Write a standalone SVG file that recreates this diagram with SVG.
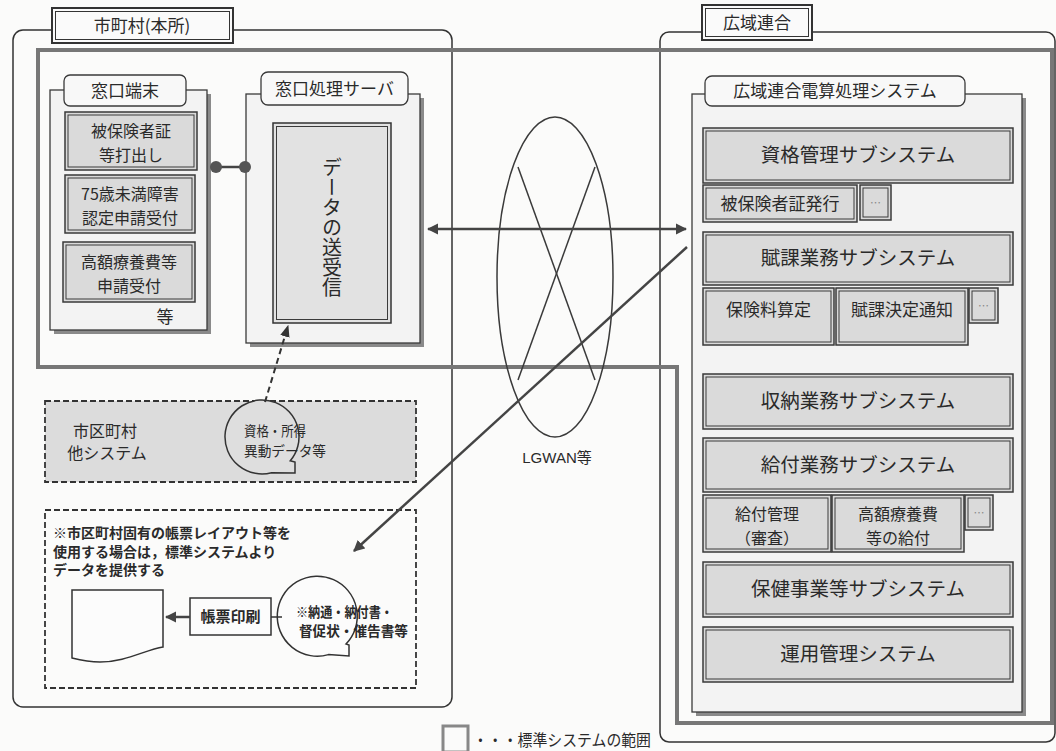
<svg xmlns="http://www.w3.org/2000/svg" width="1056" height="751" viewBox="0 0 1056 751">
<style>
text{font-family:"Noto Sans CJK JP","Noto Sans",sans-serif;fill:#2a2a2a}
.t17{font-size:17px}
.t16{font-size:16px}
.t19{font-size:19.5px}
.t14{font-size:14px}
.c{text-anchor:middle}
.panel{fill:#f3f3f3;stroke:#3a3a3a;stroke-width:1.3}
.shadow{fill:#8a8a8a}
.lab{fill:#f8f8f8;stroke:#3a3a3a;stroke-width:1.3}
.sub{fill:#dadada;stroke:#3a3a3a;stroke-width:1.5}
.subin{fill:none;stroke:#3a3a3a;stroke-width:1}
.frame{fill:#fafafa;stroke:#333;stroke-width:2}
.dash{stroke:#333;stroke-width:1.8;stroke-dasharray:6 3}
.ln{stroke:#3a3a3a;stroke-width:1.5;fill:none}
.arr{stroke:#444;stroke-width:2.5;fill:none}
</style>
<defs>
<marker id="ah" viewBox="0 0 10 10" refX="9" refY="5" markerWidth="4.5" markerHeight="4.5" orient="auto-start-reverse"><path d="M0,0 L10,5 L0,10 Z" fill="#444"/></marker>
<marker id="ah2" viewBox="0 0 10 10" refX="9" refY="5" markerWidth="6" markerHeight="6" orient="auto"><path d="M0,1 L10,5 L0,9 Z" fill="#333"/></marker>
</defs>
<rect width="1056" height="751" fill="#fbfbfa"/>

<g id="city">
<rect x="13" y="30" width="439" height="677" rx="10" fill="none" stroke="#333" stroke-width="1.5"/>
<rect x="52" y="8" width="181" height="35" class="frame"/>
<rect x="55.5" y="11.5" width="174" height="28" fill="none" stroke="#333" stroke-width="1"/>
<text x="142" y="32" class="t17 c">市町村(本所)</text>
</g>

<g id="union">
<rect x="660" y="32" width="395" height="710" rx="9" fill="none" stroke="#333" stroke-width="1.5"/>
<rect x="702" y="5" width="110" height="35" class="frame"/>
<rect x="705.5" y="8.5" width="103" height="28" fill="none" stroke="#333" stroke-width="1"/>
<text x="757" y="29" class="t17 c">広域連合</text>
</g>

<g id="standard-range">
<path d="M38,50 H1052 V723 H677 V367 H38 Z" fill="none" stroke="#777" stroke-width="4"/>
</g>

<g id="terminal">
<rect x="54" y="94" width="157" height="240" class="shadow"/>
<rect x="50" y="90" width="157" height="240" class="panel"/>
<rect x="64" y="75" width="122" height="31" rx="6" class="lab"/>
<text x="125" y="97" class="t17 c">窓口端末</text>
<rect x="65" y="112" width="132" height="58" class="sub"/>
<rect x="68" y="115" width="126" height="52" class="subin"/>
<text x="131" y="137" class="t16 c">被保険者証</text>
<text x="131" y="160.5" class="t16 c">等打出し</text>
<rect x="65" y="175" width="130" height="58" class="sub"/>
<rect x="68" y="178" width="124" height="52" class="subin"/>
<text x="130" y="200" class="t16 c">75歳未満障害</text>
<text x="130" y="223.5" class="t16 c">認定申請受付</text>
<rect x="63" y="242" width="132" height="60" class="sub"/>
<rect x="66" y="245" width="126" height="54" class="subin"/>
<text x="129" y="268" class="t16 c">高額療養費等</text>
<text x="129" y="291.5" class="t16 c">申請受付</text>
<text x="165" y="323" class="t17 c">等</text>
</g>

<g id="server">
<rect x="250" y="98" width="174" height="249" class="shadow"/>
<rect x="246" y="94" width="174" height="249" class="panel"/>
<rect x="261" y="72" width="147" height="33" rx="7" class="lab"/>
<text x="334.5" y="95" class="t17 c">窓口処理サーバ</text>
<rect x="273" y="123" width="118" height="200" fill="#e2e2e2" stroke="#333" stroke-width="1.5"/>
<rect x="276.5" y="126.5" width="111" height="193" class="subin"/>
<text x="332" y="227" font-size="20" class="c" style="writing-mode:vertical-rl">データの送受信</text>
</g>

<g id="other-systems">
<rect x="45" y="401" width="371" height="81" fill="#dcdcdc" class="dash"/>
<text x="105" y="437" font-size="16" class="c">市区町村</text>
<text x="107" y="459" font-size="16" class="c">他システム</text>
<path d="M290.3,460.8 A37,37 0 1 0 271.6,472.7 L295,473 L295,462 Z" fill="#dedede" stroke="#333" stroke-width="1.5"/>
<text x="244" y="436" class="t14" textLength="62" lengthAdjust="spacingAndGlyphs">資格・所得</text>
<text x="244" y="456" class="t14" textLength="82" lengthAdjust="spacingAndGlyphs">異動データ等</text>
</g>

<g id="forms">
<rect x="45" y="510" width="371" height="178" fill="none" class="dash"/>
<text x="53" y="538" class="t14" font-weight="bold">※市区町村固有の帳票レイアウト等を</text>
<text x="53" y="557" class="t14" font-weight="bold">使用する場合は，標準システムより</text>
<text x="53" y="575" class="t14" font-weight="bold">データを提供する</text>
<path d="M72,590 H163 V647 C145,650 125,662 100,662 C88,662 80,660 72,658 Z" fill="#fcfcfc" stroke="#333" stroke-width="1.5"/>
<rect x="190" y="598" width="81" height="37" fill="#fcfcfc" stroke="#333" stroke-width="1.5"/>
<text x="230.5" y="622" font-size="15" class="c" font-weight="bold">帳票印刷</text>
<path d="M346,644 A40,40 0 1 0 328.4,654.6 L349,656 L349,645 Z" fill="#fcfcfc" stroke="#333" stroke-width="1.5"/>
<text x="296" y="617" font-size="14" font-weight="bold" textLength="97" lengthAdjust="spacingAndGlyphs">※納通・納付書・</text>
<text x="299" y="636" font-size="14" font-weight="bold" textLength="109" lengthAdjust="spacingAndGlyphs">督促状・催告書等</text>
</g>

<g id="lgwan">
<ellipse cx="555" cy="277" rx="58" ry="160" fill="none" stroke="#3a3a3a" stroke-width="1.5"/>
<line x1="518" y1="167" x2="595" y2="380" class="ln"/>
<line x1="595" y1="167" x2="518" y2="380" class="ln"/>
<text x="557" y="463" font-size="15" class="c" style="font-family:'Liberation Sans','Noto Sans CJK JP',sans-serif">LGWAN等</text>
</g>

<g id="kouiki-system">
<rect x="696" y="98" width="330" height="618" class="shadow"/>
<rect x="692" y="94" width="330" height="618" class="panel"/>
<rect x="705" y="76" width="260" height="30" rx="7" class="lab"/>
<text x="835" y="97" class="t17 c">広域連合電算処理システム</text>
</g>

<g id="shikaku">
<rect x="703" y="128" width="310" height="55" class="sub"/><rect x="706" y="131" width="304" height="49" class="subin"/>
<text x="858" y="162" class="t19 c">資格管理サブシステム</text>
<rect x="703" y="185" width="154" height="37" class="sub"/><rect x="706" y="188" width="148" height="31" class="subin"/>
<text x="780" y="210" class="t17 c">被保険者証発行</text>
<rect x="860" y="185" width="31" height="35" class="sub"/><rect x="863" y="188" width="25" height="29" class="subin"/>
<text x="875.5" y="207" font-size="11" class="c" style="fill:#888">…</text>
</g>

<g id="fuka">
<rect x="703" y="232" width="310" height="53" class="sub"/><rect x="706" y="235" width="304" height="47" class="subin"/>
<text x="858" y="265" class="t19 c">賦課業務サブシステム</text>
<rect x="703" y="288" width="131" height="57" class="sub"/><rect x="706" y="291" width="125" height="51" class="subin"/>
<text x="768.5" y="316" class="t17 c">保険料算定</text>
<rect x="836" y="288" width="132" height="57" class="sub"/><rect x="839" y="291" width="126" height="51" class="subin"/>
<text x="902" y="316" class="t17 c">賦課決定通知</text>
<rect x="969" y="288" width="29" height="35" class="sub"/><rect x="972" y="291" width="23" height="29" class="subin"/>
<text x="983.5" y="310" font-size="11" class="c" style="fill:#888">…</text>
</g>

<g id="shuno">
<rect x="703" y="374" width="310" height="55" class="sub"/><rect x="706" y="377" width="304" height="49" class="subin"/>
<text x="858" y="408" class="t19 c">収納業務サブシステム</text>
</g>

<g id="kyufu">
<rect x="703" y="438" width="310" height="54" class="sub"/><rect x="706" y="441" width="304" height="48" class="subin"/>
<text x="858" y="472" class="t19 c">給付業務サブシステム</text>
<rect x="703" y="495" width="128" height="57" class="sub"/><rect x="706" y="498" width="122" height="51" class="subin"/>
<text x="767" y="520" class="t16 c">給付管理</text>
<text x="767" y="543.5" class="t16 c">（審査）</text>
<rect x="832" y="495" width="132" height="57" class="sub"/><rect x="835" y="498" width="126" height="51" class="subin"/>
<text x="898" y="520" class="t16 c">高額療養費</text>
<text x="898" y="543.5" class="t16 c">等の給付</text>
<rect x="965" y="495" width="28" height="35" class="sub"/><rect x="968" y="498" width="22" height="29" class="subin"/>
<text x="979" y="517" font-size="11" class="c" style="fill:#888">…</text>
</g>

<g id="hoken">
<rect x="703" y="562" width="310" height="55" class="sub"/><rect x="706" y="565" width="304" height="49" class="subin"/>
<text x="858" y="596" class="t19 c">保健事業等サブシステム</text>
</g>

<g id="unyo">
<rect x="703" y="627" width="310" height="55" class="sub"/><rect x="706" y="630" width="304" height="49" class="subin"/>
<text x="858" y="661" class="t19 c">運用管理システム</text>
</g>

<g id="connectors">
<line x1="216" y1="167" x2="245" y2="167" stroke="#444" stroke-width="2.5"/>
<circle cx="216" cy="167" r="6" fill="#555"/>
<circle cx="245" cy="167" r="6" fill="#555"/>
<line x1="428" y1="229" x2="686" y2="229" class="arr" marker-start="url(#ah)" marker-end="url(#ah)"/>
<line x1="687" y1="247" x2="354" y2="551" class="arr" marker-end="url(#ah)"/>
<line x1="265" y1="402" x2="288" y2="326" stroke="#333" stroke-width="2" stroke-dasharray="6 4" marker-end="url(#ah2)"/>
<line x1="190" y1="617" x2="166" y2="617" stroke="#444" stroke-width="2.5" marker-end="url(#ah)"/>
<line x1="271" y1="617" x2="282" y2="617" stroke="#333" stroke-width="1.5"/>
</g>

<g id="legend">
<rect x="443" y="726" width="25" height="26" fill="none" stroke="#888" stroke-width="3"/>
<text x="473" y="746" font-size="16" textLength="178" lengthAdjust="spacingAndGlyphs">・・・標準システムの範囲</text>
</g>
</svg>
